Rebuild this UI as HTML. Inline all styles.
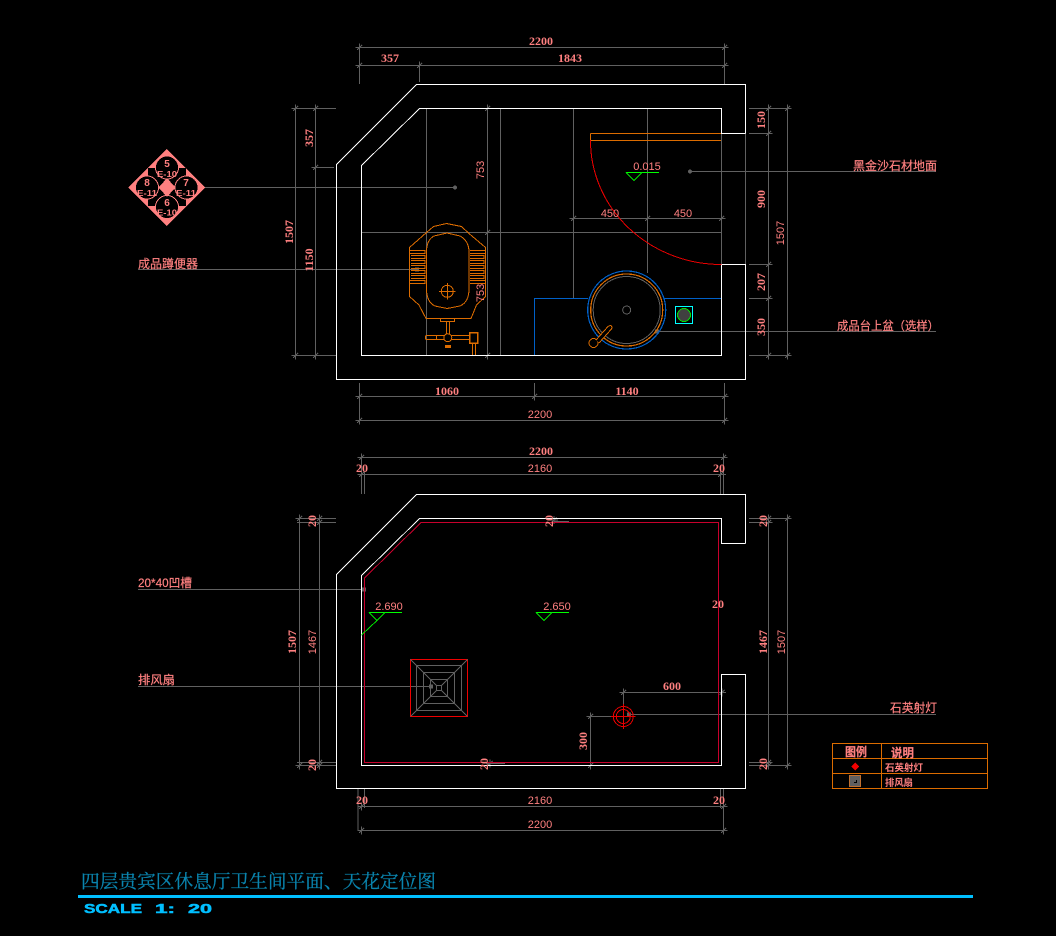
<!DOCTYPE html>
<html><head><meta charset="utf-8"><style>
html,body{margin:0;padding:0;background:#000;width:1056px;height:936px;overflow:hidden}
svg{display:block;position:absolute;left:0;top:0}
.g{stroke:#606060;fill:none}
.w{stroke:#fff;fill:none}
.o{stroke:#dc6c00;fill:none}
text{font-family:"Liberation Sans","Noto Sans CJK SC",sans-serif;fill:#ff8080;font-size:11px}
.b{font-weight:bold;font-family:"Liberation Serif","Noto Sans CJK SC",serif;font-size:12px}
.m{text-anchor:middle}
.c{font-size:12px;stroke:#ff8080;stroke-width:.2px}
</style></head><body>
<svg width="1056" height="936" viewBox="0 0 1056 936" xmlns="http://www.w3.org/2000/svg" shape-rendering="crispEdges">
<defs><g id="t"><path d="M-4 0H4M0-4V4M-2.500 2.500L2.500-2.500" stroke="#606060" stroke-width="1.400" fill="none"/></g></defs>
<rect width="1056" height="936" fill="#000"/>

<!-- TOP PLAN gray lines -->
<g class="g">
<path d="M359.500 47.500H724.500M359.500 65.500H724.500M359.500 44V84M724.500 44V84M419.500 62V82"/>
<path d="M293 108.500H336M313 167.500H334M295.500 105V358M315.500 105V358M293 355.500H336"/>
<path d="M426.500 108V355M487.500 108V355M500.500 108V355M361 232.500H721"/>
<path d="M205 187.500H455M138 269.500H417M573.500 108V298M647.500 108V273M573 218.500H721"/>
<path d="M690 171.500H936M657 331.500H936"/>
<path d="M745.500 133V264M721.500 133V264"/>
<path d="M749 108.500H791M749 133.500H772M749 264.500H772M749 298.500H772M749 355.500H791M768.500 105V358M787.500 105V358"/>
<path d="M359.500 383V423M534.500 383V399M724.500 383V423M356 396.500H728M356 420.500H728"/>
</g>
<g>
<use href="#t" x="359.500" y="47.500"/><use href="#t" x="724.500" y="47.500"/><use href="#t" x="359.500" y="65.500"/><use href="#t" x="419.500" y="65.500"/><use href="#t" x="724.500" y="65.500"/>
<use href="#t" x="295.500" y="108.500"/><use href="#t" x="315.500" y="108.500"/><use href="#t" x="315.500" y="167.500"/><use href="#t" x="295.500" y="355.500"/><use href="#t" x="315.500" y="355.500"/>
<use href="#t" x="487.500" y="108.500"/><use href="#t" x="487.500" y="232.500"/><use href="#t" x="487.500" y="355.500"/>
<use href="#t" x="573.500" y="218.500"/><use href="#t" x="647.500" y="218.500"/><use href="#t" x="721.500" y="218.500"/>
<use href="#t" x="768.500" y="108.500"/><use href="#t" x="787.500" y="108.500"/><use href="#t" x="768.500" y="133.500"/><use href="#t" x="768.500" y="264.500"/><use href="#t" x="768.500" y="298.500"/><use href="#t" x="768.500" y="355.500"/><use href="#t" x="787.500" y="355.500"/>
<use href="#t" x="359.500" y="396.500"/><use href="#t" x="534.500" y="396.500"/><use href="#t" x="724.500" y="396.500"/><use href="#t" x="359.500" y="420.500"/><use href="#t" x="724.500" y="420.500"/>
</g>
<circle cx="455" cy="187.500" r="2" fill="#606060"/><circle cx="690" cy="171.500" r="2" fill="#606060"/><rect x="415" y="267.500" width="4" height="4" fill="#606060"/><rect x="655" y="329.500" width="4" height="4" fill="#606060"/>

<!-- TOP PLAN walls -->
<path class="w" d="M745.500 133.500V84.500H416.500L336.500 164.500V379.500H745.500V264.500H721.500V355.500H361.500V165.500L419.500 108.500H721.500V133.500H745.500"/>

<!-- door & counter -->
<path d="M590.500 133.500H721M590.500 140.500H721M590.500 133.500V140.500" stroke="#dc6c00" fill="none"/>
<path d="M590.500 140 A131 124 0 0 0 721.500 264.500" stroke="#e80000" fill="none"/>
<path d="M534.500 355V298.500H588M664 298.500H721" stroke="#0060c8" fill="none"/>
<path d="M626 172.500H659" stroke="#00ff00" fill="none"/><path d="M626 172.500L634 180.500L642 172.500" stroke="#00e000" fill="none"/>

<!-- basin -->
<circle cx="626.700" cy="310" r="39" fill="none" stroke="#0060c8" stroke-width="1.200"/>
<circle cx="626.700" cy="310" r="36" fill="none" stroke="#dc6c00" stroke-width="1.200"/>
<circle cx="626.700" cy="310" r="33.500" fill="none" stroke="#606060"/>
<circle cx="626.700" cy="310" r="4" fill="none" stroke="#606060"/>
<circle cx="593.500" cy="343" r="4.500" fill="#000" stroke="#dc6c00"/>
<path d="M596 340L608 326.500Q610 325 611.500 326Q612.500 328 611 329.500L599 343" fill="#000" stroke="#dc6c00"/>
<rect x="675.500" y="306.500" width="17" height="17" fill="none" stroke="#00ffff"/>
<circle cx="684" cy="315" r="6.500" fill="#404040" stroke="#00e000"/>

<!-- toilet -->
<g class="o" stroke-width="1">
<path d="M409.500 247.500L426.500 232.500L433.500 226.500L446.500 223.500L461.500 226.500L469 233.500L485.500 247.500V296.500L476.500 305L471 318.500H426L419 305L409.500 296.500Z"/>
<path d="M426.500 252Q426.500 240 434 236L447 233L460 236Q469 241 469 252V289Q469 302 460 306L447 308.500L435 306Q426.500 302 426.500 289Z"/>
<path d="M409.500 250.500H425V253.500H409.500M411 255.500H425V258.500H411M411 260.500H425V263.500H411M411 265.500H425V268.500H411M411 270.500H425V273.500H411M411 275.500H425V278.500H411M409.500 280.500H425V283.500H409.500" stroke-width="1.300"/>
<path d="M470 250.500H485.500V253.500H470M470 255.500H484V258.500H470M470 260.500H484V263.500H470M470 265.500H484V268.500H470M470 270.500H484V273.500H470M470 275.500H484V278.500H470M470 280.500H485.500V283.500H470" stroke-width="1.300"/>
<circle cx="447.300" cy="291.300" r="6"/><path d="M439 291.500H455.500M447.500 283V299.500"/>
<path d="M440.500 318.500V321.500H454.500V318.500M446.500 322V334M449.500 322V334M426 335.500H444M426 339.500H444M425.500 335.500V339.500M436.500 335V340M451 335.500H469M451 339.500H469"/>
<circle cx="447.800" cy="337.700" r="4"/>
<rect x="469.500" y="332.500" width="8" height="10.500" stroke-width="1.500"/>
<path d="M472.500 343V355M475.500 343V355"/>
</g>
<rect x="445" y="345" width="6" height="3" fill="#dc6c00"/>

<!-- top labels -->
<text class="b m" x="541" y="45" textLength="24" lengthAdjust="spacingAndGlyphs">2200</text>
<text class="b m" x="390" y="62" textLength="18" lengthAdjust="spacingAndGlyphs">357</text>
<text class="b m" x="570" y="62" textLength="24" lengthAdjust="spacingAndGlyphs">1843</text>
<text class="m" x="610" y="217">450</text><text class="m" x="683" y="217">450</text>
<text class="m" x="647" y="170" font-size="10">0.015</text>
<text class="b m" x="447" y="395">1060</text>
<text class="b m" x="627" y="395">1140</text>
<text class="m" x="540" y="418">2200</text>
<text class="b m" transform="translate(313,138) rotate(-90)">357</text>
<text class="b m" transform="translate(293,232) rotate(-90)">1507</text>
<text class="b m" transform="translate(313,260) rotate(-90)">1150</text>
<text class="m" transform="translate(484,170) rotate(-90)">753</text>
<text class="m" transform="translate(484,293) rotate(-90)">753</text>
<text class="b m" transform="translate(765,120) rotate(-90)">150</text>
<text class="b m" transform="translate(765,199) rotate(-90)">900</text>
<text class="b m" transform="translate(765,282) rotate(-90)">207</text>
<text class="b m" transform="translate(765,327) rotate(-90)">350</text>
<text class="m" transform="translate(784,233) rotate(-90)">1507</text>
<text class="c" x="138" y="268" textLength="60" lengthAdjust="spacingAndGlyphs">成品蹲便器</text>
<text class="c" x="853" y="170" textLength="84" lengthAdjust="spacingAndGlyphs">黑金沙石材地面</text>
<text class="c" x="837" y="330" textLength="102" lengthAdjust="spacingAndGlyphs">成品台上盆（选样）</text>

<!-- symbol -->
<polygon points="128,187.500 166.500,149 205,187.500 166.500,226" fill="#ff8080"/>
<rect x="148" y="168" width="38" height="38" fill="#000"/>
<g fill="#000" stroke="#ff8080"><circle cx="167" cy="167.500" r="11.500"/><circle cx="147" cy="187.500" r="11.500"/><circle cx="186.500" cy="187.500" r="11.500"/><circle cx="167" cy="207" r="11.500"/></g>
<path d="M167 178Q163 183 158 187.500Q163 192 167 197Q171 192 176 187.500Q171 183 167 178Z" fill="#ff8080"/>
<text class="m" x="167" y="167" style="font-size:10px;font-weight:bold">5</text><text class="m" x="167" y="177" textLength="20" lengthAdjust="spacingAndGlyphs" style="font-size:8.500px;font-weight:bold">E-10</text>
<text class="m" x="147" y="186" style="font-size:10px;font-weight:bold">8</text><text class="m" x="147" y="196" textLength="20" lengthAdjust="spacingAndGlyphs" style="font-size:8.500px;font-weight:bold">E-11</text>
<text class="m" x="186" y="186" style="font-size:10px;font-weight:bold">7</text><text class="m" x="186" y="196" textLength="20" lengthAdjust="spacingAndGlyphs" style="font-size:8.500px;font-weight:bold">E-11</text>
<text class="m" x="167" y="206" style="font-size:10px;font-weight:bold">6</text><text class="m" x="167" y="215.500" textLength="20" lengthAdjust="spacingAndGlyphs" style="font-size:8.500px;font-weight:bold">E-10</text>

<!-- BOTTOM PLAN gray -->
<g class="g">
<path d="M358 457.500H726M358 474.500H726M361.500 454V494M364.500 472V494M720.500 472V494M723.500 454V494"/>
<path d="M297 518.500H336M297 522.500H336M299.500 515V768M319.500 515V768M297 765.500H336M297 762.500H336"/>
<path d="M749 518.500H791M749 522.500H772M749 762.500H772M749 765.500H791M768.500 515V768M787.500 515V768"/>
<path d="M138 589.500H364M138 686.500H430M629 714.500H936M623.500 692.500H722M623.500 692V705M590.500 716.500H612M590.500 716V766M590 765.500H621"/>
<path d="M554 518.500H569M554 521.500H569M490 763.500H505"/>
<path d="M358 788V831M364.500 788V808M720.500 788V808M723.500 788V831M358 806.500H726M358 830.500H726"/>
</g>
<g>
<use href="#t" x="361.500" y="457.500"/><use href="#t" x="723.500" y="457.500"/><use href="#t" x="361.500" y="474.500"/><use href="#t" x="720.500" y="474.500"/>
<use href="#t" x="299.500" y="518.500"/><use href="#t" x="319.500" y="518.500"/><use href="#t" x="319.500" y="522.500"/><use href="#t" x="299.500" y="765.500"/><use href="#t" x="319.500" y="765.500"/><use href="#t" x="319.500" y="762.500"/>
<use href="#t" x="768.500" y="518.500"/><use href="#t" x="787.500" y="518.500"/><use href="#t" x="768.500" y="522.500"/><use href="#t" x="768.500" y="762.500"/><use href="#t" x="768.500" y="765.500"/><use href="#t" x="787.500" y="765.500"/>
<use href="#t" x="623.500" y="692.500"/><use href="#t" x="722" y="692.500"/><use href="#t" x="590.500" y="716.500"/><use href="#t" x="590.500" y="765.500"/>
<use href="#t" x="554" y="520"/><use href="#t" x="490" y="763.500"/>
<use href="#t" x="361.500" y="806.500"/><use href="#t" x="723.500" y="806.500"/><use href="#t" x="361.500" y="830.500"/><use href="#t" x="723.500" y="830.500"/>
</g>
<rect x="362" y="587.500" width="4" height="4" fill="#606060"/><rect x="429" y="684.500" width="4" height="4" fill="#606060"/><rect x="627" y="712.500" width="4" height="4" fill="#606060"/>

<!-- bottom walls -->
<path d="M364.500 578L421 522.500H718.500V762.500H364.500Z" fill="none" stroke="#c8002c" stroke-width="1"/>
<path class="w" d="M745.500 543.500V494.500H416.500L336.500 574.500V788.500H745.500V674.500H721.500V765.500H361.500V575.500L419.500 518.500H721.500V543.500H745.500"/>

<!-- fan -->
<rect x="410.500" y="659.500" width="57" height="57" fill="none" stroke="#f00000" stroke-width="1"/>
<g fill="none" stroke="#606060">
<rect x="416.500" y="665.500" width="45" height="45"/>
<rect x="423.500" y="672.500" width="31" height="31"/>
<rect x="430.500" y="679.500" width="17" height="17"/>
<rect x="436.500" y="685.500" width="5" height="5"/>
</g>
<path d="M410.500 659.500L436.500 685.500M467.500 659.500L441.500 685.500M410.500 716.500L436.500 690.500M467.500 716.500L441.500 690.500" stroke="#606060" fill="none"/>

<!-- lamp -->
<g fill="none" stroke="#e80000">
<circle cx="623.300" cy="716.500" r="10"/><circle cx="623.300" cy="716.500" r="7"/>
<path d="M611 716.500H635.500M623.500 704V729"/>
</g>

<!-- level marks -->
<path d="M369 612.500H402M536 612.500H569" stroke="#00ff00" fill="none"/>
<path d="M369 612.500L377 620.500L385 612.500M377 620.500L361.500 635M536 612.500L544 620.500L552 612.500" stroke="#00e000" fill="none"/>

<!-- bottom labels -->
<text class="b m" x="541" y="455" textLength="24" lengthAdjust="spacingAndGlyphs">2200</text>
<text class="b m" x="362" y="472">20</text><text class="m" x="540" y="472">2160</text><text class="b m" x="719" y="472">20</text>
<text class="m" x="389" y="610" font-size="10">2.690</text>
<text class="m" x="557" y="610" font-size="10">2.650</text>
<text class="b m" x="672" y="690">600</text>
<text class="b m" x="718" y="608">20</text>
<text class="b m" x="362" y="804">20</text><text class="m" x="540" y="804">2160</text><text class="b m" x="719" y="804">20</text>
<text class="m" x="540" y="828">2200</text>
<text class="b m" transform="translate(316,521) rotate(-90)">20</text>
<text class="b m" transform="translate(296,642) rotate(-90)">1507</text>
<text class="m" transform="translate(316,642) rotate(-90)">1467</text>
<text class="b m" transform="translate(316,765) rotate(-90)">20</text>
<text class="b m" transform="translate(553,521) rotate(-90)">20</text>
<text class="b m" transform="translate(488,764) rotate(-90)">20</text>
<text class="b m" transform="translate(587,741) rotate(-90)">300</text>
<text class="b m" transform="translate(767,521) rotate(-90)">20</text>
<text class="b m" transform="translate(767,642) rotate(-90)">1467</text>
<text class="m" transform="translate(785,642) rotate(-90)">1507</text>
<text class="b m" transform="translate(767,764) rotate(-90)">20</text>
<text class="c" x="138" y="587" textLength="54" lengthAdjust="spacingAndGlyphs">20*40凹槽</text>
<text class="c" x="138" y="684" textLength="37" lengthAdjust="spacingAndGlyphs">排风扇</text>
<text class="c" x="890" y="712" textLength="47" lengthAdjust="spacingAndGlyphs">石英射灯</text>

<!-- legend -->
<path d="M832.500 743.500H987.500V788.500H832.500ZM832.500 758.500H987.500M832.500 773.500H987.500M881.500 743.500V788.500" fill="none" stroke="#dc6c00"/>
<text class="c" x="845" y="756" textLength="22" lengthAdjust="spacingAndGlyphs" style="font-weight:bold">图例</text>
<text class="c" x="891" y="757" textLength="23" lengthAdjust="spacingAndGlyphs" style="font-weight:bold">说明</text>
<text x="885" y="771" textLength="38" lengthAdjust="spacingAndGlyphs" style="font-size:9.500px;font-weight:bold">石英射灯</text>
<text x="885" y="786" textLength="28" lengthAdjust="spacingAndGlyphs" style="font-size:9.500px;font-weight:bold">排风扇</text>
<path d="M855 762.500L859 766.500L855 770.500L851 766.500Z" fill="#f00000"/>
<rect x="849.500" y="775.500" width="11" height="11" fill="#606060" stroke="#c07030"/>
<path d="M854 782.500H856.500V780" stroke="#000" fill="none"/>

<!-- title -->
<text x="81" y="888" textLength="355" lengthAdjust="spacingAndGlyphs" style="font-family:'Noto Serif CJK SC',serif;font-size:18.500px;fill:#0a84ae;stroke:#0a84ae;stroke-width:.25px">四层贵宾区休息厅卫生间平面、天花定位图</text>
<rect x="78" y="895" width="895" height="3" fill="#00bfff"/>
<g>
<text x="84" y="913" textLength="58" lengthAdjust="spacingAndGlyphs" style="font-size:12.500px;fill:#00bfff;stroke:#00bfff;stroke-width:.5px;font-weight:bold">SCALE</text>
<text x="155" y="913" textLength="20" lengthAdjust="spacingAndGlyphs" style="font-size:12.500px;fill:#00bfff;stroke:#00bfff;stroke-width:.5px;font-weight:bold">1:</text>
<text x="188" y="913" textLength="24" lengthAdjust="spacingAndGlyphs" style="font-size:12.500px;fill:#00bfff;stroke:#00bfff;stroke-width:.5px;font-weight:bold">20</text>
</g>
</svg>
</body></html>
